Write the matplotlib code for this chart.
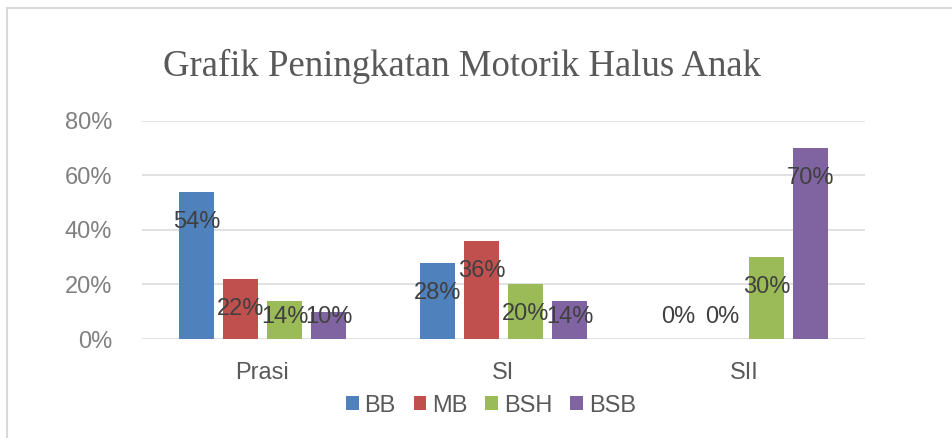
import matplotlib
matplotlib.use("Agg")
import matplotlib.pyplot as plt
import matplotlib.patches as mpatches
import matplotlib.transforms as mtrans
import numpy as np

categories = ["Prasi", "SI", "SII"]
series_names = ["BB", "MB", "BSH", "BSB"]
BB = [0.54, 0.28, 0.00]
MB = [0.22, 0.36, 0.00]
BSH = [0.14, 0.20, 0.30]
BSB = [0.10, 0.14, 0.70]
yticks = [0.0, 0.2, 0.4, 0.6, 0.8]
ytick_labels = ["0%", "20%", "40%", "60%", "80%"]
title = "Grafik Peningkatan Motorik Halus Anak"

colors = ["#4f81bd", "#c0504d", "#9bbb59", "#8064a2"]
series = [BB, MB, BSH, BSB]

W, H = 953, 438
fig = plt.figure(figsize=(W / 100, H / 100), dpi=100)
fig.patch.set_facecolor("white")
plt.rcParams["font.family"] = ["Liberation Sans", "DejaVu Sans"]

ax = fig.add_axes([142 / W, 1 - 339 / H, (865 - 142) / W, (339 - 120.5) / H])
ax.set_xlim(-0.5, len(categories) - 0.5)
ax.set_ylim(0, 0.8)

x = np.arange(len(categories))
width = 0.143
step = 0.1826
for i, (vals, col, name) in enumerate(zip(series, colors, series_names)):
    xs = x + (i - 1.5) * step
    ax.bar(xs, vals, width=width, color=col, label=name, zorder=3)
    for xi, v in zip(xs, vals):
        ly = max(v - 0.110, 0.081)
        ax.text(xi, ly, f"{round(v * 100):d}%", ha="center", va="center",
                fontsize=17, color="#404040", zorder=4)

ax.set_yticks(yticks)
ax.set_yticklabels(ytick_labels)
ax.tick_params(axis="y", length=0, pad=21.5, labelsize=17, labelcolor="#808080")
ax.set_xticks([])
ax.grid(axis="y", color="#d9d9d9", linewidth=1.1, zorder=0)
for s in ax.spines.values():
    s.set_visible(False)

# category labels
trans = mtrans.blended_transform_factory(ax.transData, fig.transFigure)
for xi, c in zip(x, categories):
    ax.text(xi, 1 - 379 / H, c, transform=trans, ha="center", va="baseline",
            fontsize=17, color="#595959")

fig.text(462 / W, 1 - 76 / H, title, ha="center", va="baseline",
         fontsize=26.5, color="#595959", family=["Liberation Serif", "DejaVu Serif"])

handles, labels = ax.get_legend_handles_labels()
leg = fig.legend(handles, labels, loc="center", ncol=4,
                 bbox_to_anchor=(491 / W, 1 - 405.7 / H), frameon=False,
                 fontsize=17, handlelength=0.55, handleheight=0.55,
                 handletextpad=0.25, columnspacing=0.75, borderaxespad=0)
for t in leg.get_texts():
    t.set_color("#595959")

border = mpatches.Rectangle((7 / W, -0.1), 1.2, 1.1 - 8 / H, transform=fig.transFigure,
                            fill=False, edgecolor="#d9d9d9", linewidth=1.5)
fig.patches.append(border)

fig.savefig("out.png", dpi=100, facecolor="white")
